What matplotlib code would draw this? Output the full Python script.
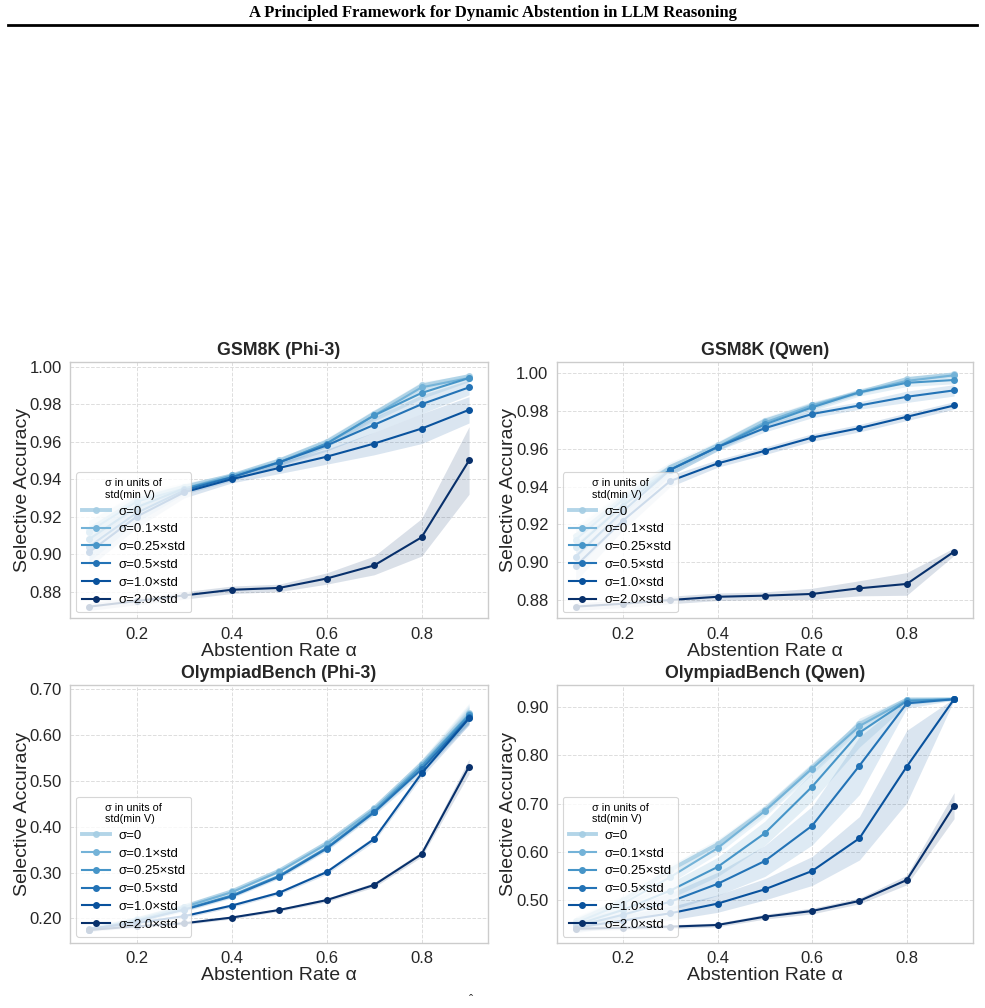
import matplotlib.pyplot as plt
import numpy as np

plt.rcParams['font.family'] = ['Liberation Sans', 'DejaVu Sans']

# abstention rates
alphas = [0.1, 0.2, 0.3, 0.4, 0.5, 0.6, 0.7, 0.8, 0.9]
sigma_labels = ['σ=0', 'σ=0.1×std', 'σ=0.25×std', 'σ=0.5×std', 'σ=1.0×std', 'σ=2.0×std']

# GSM8K (Phi-3): selective accuracy per sigma (rows) and its std band
gsm_phi_acc = [
    [0.913, 0.929, 0.936, 0.942, 0.950, 0.960, 0.975, 0.990, 0.995],
    [0.912, 0.928, 0.935, 0.942, 0.949, 0.959, 0.974, 0.989, 0.994],
    [0.908, 0.925, 0.935, 0.941, 0.949, 0.959, 0.974, 0.986, 0.994],
    [0.904, 0.922, 0.934, 0.941, 0.949, 0.958, 0.969, 0.980, 0.989],
    [0.901, 0.920, 0.933, 0.940, 0.946, 0.952, 0.959, 0.967, 0.977],
    [0.872, 0.875, 0.878, 0.881, 0.882, 0.887, 0.894, 0.909, 0.950],
]
gsm_phi_std = [
    [0.005, 0.004, 0.002, 0.001, 0.001, 0.002, 0.002, 0.002, 0.001],
    [0.006, 0.004, 0.002, 0.001, 0.001, 0.002, 0.002, 0.002, 0.001],
    [0.007, 0.005, 0.002, 0.001, 0.002, 0.002, 0.003, 0.003, 0.002],
    [0.008, 0.005, 0.002, 0.002, 0.002, 0.003, 0.004, 0.005, 0.004],
    [0.008, 0.006, 0.003, 0.002, 0.003, 0.004, 0.006, 0.008, 0.007],
    [0.002, 0.002, 0.002, 0.002, 0.002, 0.003, 0.005, 0.010, 0.018],
]

# GSM8K (Qwen)
gsm_qwen_acc = [
    [0.914, 0.934, 0.950, 0.962, 0.975, 0.983, 0.990, 0.997, 0.9995],
    [0.912, 0.933, 0.949, 0.961, 0.974, 0.983, 0.990, 0.996, 0.999],
    [0.908, 0.930, 0.949, 0.961, 0.973, 0.982, 0.990, 0.995, 0.9965],
    [0.903, 0.927, 0.949, 0.961, 0.971, 0.9785, 0.983, 0.9876, 0.991],
    [0.898, 0.922, 0.943, 0.9523, 0.959, 0.966, 0.971, 0.977, 0.983],
    [0.8765, 0.878, 0.880, 0.8817, 0.8823, 0.8832, 0.8862, 0.8885, 0.9056],
]
gsm_qwen_std = [
    [0.005, 0.004, 0.003, 0.002, 0.002, 0.002, 0.001, 0.001, 0.001],
    [0.006, 0.004, 0.003, 0.002, 0.002, 0.002, 0.001, 0.001, 0.001],
    [0.006, 0.004, 0.003, 0.002, 0.002, 0.002, 0.002, 0.002, 0.002],
    [0.007, 0.005, 0.003, 0.002, 0.002, 0.002, 0.002, 0.003, 0.003],
    [0.008, 0.005, 0.003, 0.002, 0.002, 0.002, 0.002, 0.002, 0.002],
    [0.002, 0.002, 0.002, 0.002, 0.002, 0.003, 0.004, 0.006, 0.002],
]

# OlympiadBench (Phi-3)
oly_phi_acc = [
    [0.176, 0.198, 0.226, 0.259, 0.304, 0.364, 0.440, 0.537, 0.647],
    [0.176, 0.197, 0.225, 0.257, 0.302, 0.362, 0.438, 0.535, 0.645],
    [0.175, 0.195, 0.220, 0.250, 0.293, 0.354, 0.433, 0.531, 0.643],
    [0.175, 0.194, 0.219, 0.248, 0.291, 0.352, 0.431, 0.525, 0.638],
    [0.178, 0.190, 0.205, 0.228, 0.256, 0.301, 0.373, 0.516, 0.636],
    [0.175, 0.183, 0.1895, 0.202, 0.2185, 0.240, 0.273, 0.340, 0.531],
]
oly_phi_std = [
    [0.004, 0.004, 0.004, 0.004, 0.004, 0.005, 0.006, 0.010, 0.022],
    [0.004, 0.004, 0.004, 0.004, 0.004, 0.005, 0.006, 0.010, 0.020],
    [0.004, 0.004, 0.004, 0.004, 0.004, 0.005, 0.006, 0.009, 0.018],
    [0.004, 0.004, 0.004, 0.004, 0.004, 0.005, 0.006, 0.009, 0.016],
    [0.004, 0.004, 0.004, 0.004, 0.004, 0.005, 0.006, 0.008, 0.014],
    [0.003, 0.003, 0.003, 0.003, 0.003, 0.004, 0.005, 0.006, 0.016],
]

# OlympiadBench (Qwen)
oly_qwen_acc = [
    [0.456, 0.500, 0.563, 0.616, 0.687, 0.775, 0.865, 0.916, 0.9166],
    [0.453, 0.493, 0.548, 0.608, 0.685, 0.773, 0.861, 0.915, 0.9166],
    [0.449, 0.480, 0.520, 0.569, 0.639, 0.7355, 0.8474, 0.913, 0.9166],
    [0.446, 0.470, 0.497, 0.534, 0.5814, 0.6546, 0.779, 0.908, 0.9166],
    [0.443, 0.458, 0.473, 0.493, 0.5227, 0.5607, 0.6285, 0.777, 0.9166],
    [0.441, 0.443, 0.4453, 0.4488, 0.466, 0.4778, 0.4986, 0.542, 0.696],
]
oly_qwen_std = [
    [0.010, 0.010, 0.010, 0.010, 0.010, 0.010, 0.008, 0.004, 0.002],
    [0.012, 0.012, 0.012, 0.012, 0.012, 0.012, 0.010, 0.005, 0.002],
    [0.012, 0.014, 0.016, 0.020, 0.025, 0.030, 0.030, 0.008, 0.002],
    [0.012, 0.014, 0.018, 0.024, 0.032, 0.040, 0.060, 0.010, 0.002],
    [0.010, 0.012, 0.014, 0.018, 0.022, 0.030, 0.045, 0.075, 0.002],
    [0.004, 0.004, 0.004, 0.004, 0.005, 0.006, 0.006, 0.010, 0.027],
]

panels = [
    ('GSM8K (Phi-3)', gsm_phi_acc, gsm_phi_std, [0.88, 0.90, 0.92, 0.94, 0.96, 0.98, 1.00], (0.8658, 1.0027)),
    ('GSM8K (Qwen)', gsm_qwen_acc, gsm_qwen_std, [0.88, 0.90, 0.92, 0.94, 0.96, 0.98, 1.00], (0.8703, 1.0062)),
    ('OlympiadBench (Phi-3)', oly_phi_acc, oly_phi_std, [0.20, 0.30, 0.40, 0.50, 0.60, 0.70], (0.1473, 0.7087)),
    ('OlympiadBench (Qwen)', oly_qwen_acc, oly_qwen_std, [0.50, 0.60, 0.70, 0.80, 0.90], (0.4121, 0.9462)),
]

colors = plt.cm.Blues(np.linspace(0.35, 1.0, 6))

fig = plt.figure(figsize=(9.85, 10.08), dpi=100)

# page header
fig.text(0.5, 0.987, 'A Principled Framework for Dynamic Abstention in LLM Reasoning',
         ha='center', va='center', fontsize=12, fontweight='bold', family='Liberation Serif')
fig.add_artist(plt.Line2D([0.008, 0.992], [0.975, 0.975], color='black', lw=2))
fig.text(0.478, 0.001, 'ˆ', ha='center', va='bottom', fontsize=9, color='#333333')

boxes = [
    [0.0711, 0.3866, 0.4244, 0.2546],
    [0.5652, 0.3866, 0.4226, 0.2546],
    [0.0711, 0.0648, 0.4244, 0.2557],
    [0.5652, 0.0648, 0.4226, 0.2557],
]

x = np.array(alphas)
for (title, acc, std, yticks, ylim), box in zip(panels, boxes):
    ax = fig.add_axes(box)
    for i in range(6):
        m = np.array(acc[i])
        s = np.array(std[i])
        ax.fill_between(x, m - s, m + s, color=colors[i], alpha=0.15, lw=0)
        if i == 0:
            ax.plot(x, m, '-o', color=colors[i], lw=2.8, ms=4, alpha=0.85, label=sigma_labels[i])
        else:
            ax.plot(x, m, '-o', color=colors[i], lw=1.5, ms=4, label=sigma_labels[i])
    ax.set_xlim(0.06, 0.94)
    ax.set_ylim(*ylim)
    ax.set_xticks([0.2, 0.4, 0.6, 0.8])
    ax.set_xticklabels(['0.2', '0.4', '0.6', '0.8'])
    ax.set_yticks(yticks)
    ax.set_yticklabels(['{:.2f}'.format(v) for v in yticks])
    ax.tick_params(labelsize=12, length=0, colors='#262626', pad=6)
    ax.grid(True, ls='--', color='#dddddd', lw=0.7)
    ax.set_axisbelow(True)
    for sp in ax.spines.values():
        sp.set_color('#cccccc')
        sp.set_linewidth(1.0)
    ax.set_title(title, fontsize=12.8, fontweight='bold', color='#262626', pad=5)
    ax.set_xlabel('Abstention Rate α', fontsize=14, color='#262626', labelpad=1)
    ax.set_ylabel('Selective Accuracy', fontsize=14, color='#262626', labelpad=-1)
    leg = ax.legend(loc='lower left', title='σ in units of\nstd(min V)', fontsize=9.5,
                    title_fontsize=7.8, framealpha=0.8, edgecolor='#cccccc',
                    borderpad=0.45, labelspacing=0.42, handlelength=2.1,
                    handletextpad=0.65, borderaxespad=0.45)
    leg.get_frame().set_linewidth(0.8)

fig.savefig('out.png', dpi=100, facecolor='white')
